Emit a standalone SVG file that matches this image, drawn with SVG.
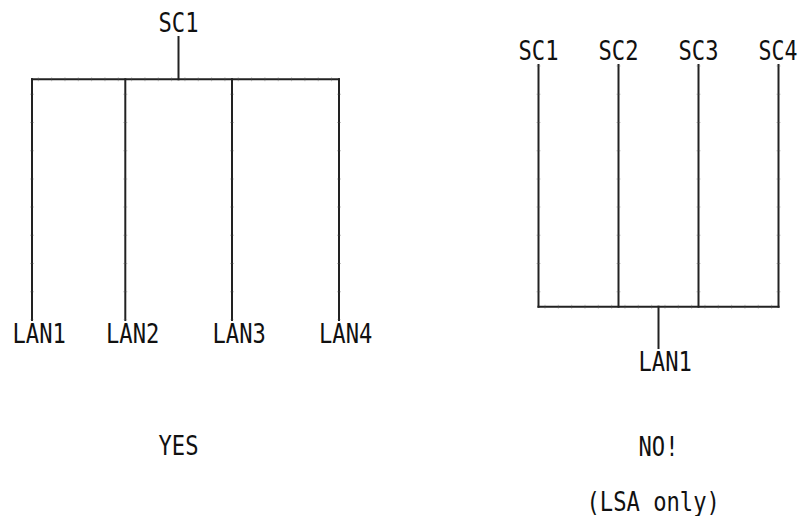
<svg xmlns="http://www.w3.org/2000/svg" width="801" height="516" viewBox="0 0 801 516">
<style>
text{font-family:"DejaVu Sans Mono","Liberation Mono",monospace;font-size:26px;fill:#111;}
.ln{stroke:#222;stroke-width:2;fill:none;stroke-linecap:square;}
.tk{stroke:#555;stroke-width:4;fill:none;stroke-dasharray:1 12.33;opacity:0.35;}
.tv{stroke:#555;stroke-width:4;fill:none;stroke-dasharray:1 27.2;opacity:0.35;}
</style>
<rect width="801" height="516" fill="#fff"/>
<g id="connectors">
  <line class="ln" x1="178.5" y1="37" x2="178.5" y2="79.3"/>
  <line class="ln" x1="32" y1="79.3" x2="339" y2="79.3"/>
  <line class="ln" x1="32" y1="79.3" x2="32" y2="320"/>
  <line class="ln" x1="125.3" y1="79.3" x2="125.3" y2="320"/>
  <line class="ln" x1="232" y1="79.3" x2="232" y2="320"/>
  <line class="ln" x1="339" y1="79.3" x2="339" y2="320"/>
  <line class="tk" x1="32" y1="79.3" x2="339" y2="79.3" stroke-dashoffset="-5.8"/>
  <line class="tv" x1="32" y1="79.3" x2="32" y2="320" stroke-dashoffset="-14.5"/>
  <line class="tv" x1="125.3" y1="79.3" x2="125.3" y2="320" stroke-dashoffset="-14.5"/>
  <line class="tv" x1="232" y1="79.3" x2="232" y2="320" stroke-dashoffset="-14.5"/>
  <line class="tv" x1="339" y1="79.3" x2="339" y2="320" stroke-dashoffset="-14.5"/>
  <line class="ln" x1="538.5" y1="65" x2="538.5" y2="306.7"/>
  <line class="ln" x1="618.5" y1="65" x2="618.5" y2="306.7"/>
  <line class="ln" x1="698.5" y1="65" x2="698.5" y2="306.7"/>
  <line class="ln" x1="778.5" y1="65" x2="778.5" y2="306.7"/>
  <line class="ln" x1="538.5" y1="306.7" x2="778.5" y2="306.7"/>
  <line class="ln" x1="658.5" y1="306.7" x2="658.5" y2="348"/>
  <line class="tk" x1="538.5" y1="306.7" x2="778.5" y2="306.7" stroke-dashoffset="-6"/>
  <line class="tv" x1="538.5" y1="65" x2="538.5" y2="306.7" stroke-dashoffset="-28.8"/>
  <line class="tv" x1="618.5" y1="65" x2="618.5" y2="306.7" stroke-dashoffset="-28.8"/>
  <line class="tv" x1="698.5" y1="65" x2="698.5" y2="306.7" stroke-dashoffset="-28.8"/>
  <line class="tv" x1="778.5" y1="65" x2="778.5" y2="306.7" stroke-dashoffset="-28.8"/>
</g>
<g id="yes-sc1"><text x="158.5" y="32" textLength="40" lengthAdjust="spacingAndGlyphs">SC1</text></g>
<g id="yes-lan1"><text x="12.5" y="342.5" textLength="53.3" lengthAdjust="spacingAndGlyphs">LAN1</text></g>
<g id="yes-lan2"><text x="106" y="342.5" textLength="53.3" lengthAdjust="spacingAndGlyphs">LAN2</text></g>
<g id="yes-lan3"><text x="212.5" y="342.5" textLength="53.3" lengthAdjust="spacingAndGlyphs">LAN3</text></g>
<g id="yes-lan4"><text x="319" y="342.5" textLength="53.3" lengthAdjust="spacingAndGlyphs">LAN4</text></g>
<g id="yes-label"><text x="158.5" y="455" textLength="40" lengthAdjust="spacingAndGlyphs">YES</text></g>
<g id="no-sc1"><text x="518.5" y="60" textLength="40" lengthAdjust="spacingAndGlyphs">SC1</text></g>
<g id="no-sc2"><text x="598.5" y="60" textLength="40" lengthAdjust="spacingAndGlyphs">SC2</text></g>
<g id="no-sc3"><text x="678.5" y="60" textLength="40" lengthAdjust="spacingAndGlyphs">SC3</text></g>
<g id="no-sc4"><text transform="translate(758.5,60) scale(0.83,1)" x="0" y="0">SC4</text></g>
<g id="no-lan1"><text x="638.5" y="371" textLength="53.3" lengthAdjust="spacingAndGlyphs">LAN1</text></g>
<g id="no-label"><text x="638.5" y="455.5" textLength="40" lengthAdjust="spacingAndGlyphs">NO!</text></g>
<g id="no-note"><text x="586.5" y="511" textLength="133.3" lengthAdjust="spacingAndGlyphs">(LSA only)</text></g>
</svg>
